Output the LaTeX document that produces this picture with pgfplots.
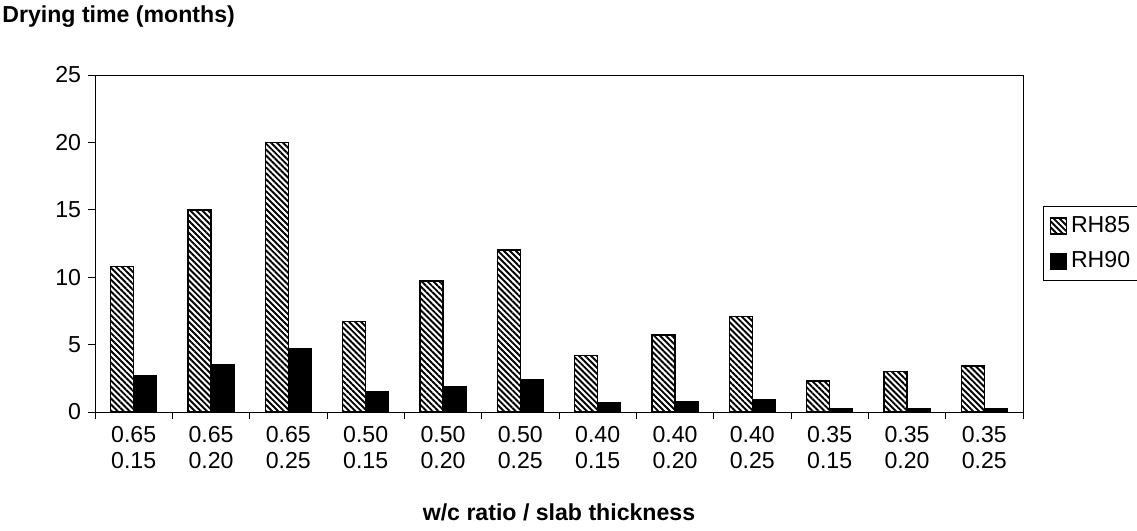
\documentclass[border=0pt]{standalone}
\usepackage{pgfplots}
\pgfplotsset{compat=1.18}
\usetikzlibrary{patterns.meta}
\usepackage{fontspec}
\setmainfont{Liberation Sans}
\newcommand{\fs}{\fontsize{11.6}{13.3}\selectfont}

\begin{document}
\begin{tikzpicture}
\useasboundingbox (0,0) rectangle (568.5bp,265.5bp);
\node[anchor=base west, inner sep=0pt, font=\fs\bfseries] at (1bp,254.2bp) {Drying time (months)};
\begin{axis}[
  at={(47.5bp,59.5bp)}, anchor=south west,
  scale only axis, width=464bp, height=168.5bp,
  xmin=-0.5, xmax=11.5, ymin=0, ymax=25,
  ybar=0pt, bar width=11.5bp,
  xtick={0,...,11},
  xticklabels={{0.65\\0.15},{0.65\\0.20},{0.65\\0.25},{0.50\\0.15},{0.50\\0.20},{0.50\\0.25},{0.40\\0.15},{0.40\\0.20},{0.40\\0.25},{0.35\\0.15},{0.35\\0.20},{0.35\\0.25}},
  minor xtick={-0.5,0.5,...,11.5},
  ytick={0,5,...,25},
  tick align=outside,
  tick pos=left,
  major tick length=3.5bp, minor tick length=3.5bp,
  major x tick style={draw=none},
  tick style={black, line width=0.5bp},
  axis line style={line width=0.5bp},
  ticklabel style={font=\fs},
  xticklabel style={align=center},
  /pgf/number format/assume math mode=true,
  legend style={at={(axis description cs:1.0216,0.5)}, anchor=west, draw=black, line width=0.5bp, font=\fs, inner xsep=3bp, inner ysep=3bp, row sep=4bp},
  legend cell align=left,
  legend image code/.code={\draw[#1] (0bp,-4bp) rectangle (8bp,4bp);},
]
\addplot[draw=black, line width=0.75bp, pattern={Lines[angle=-45,distance=2.1bp,line width=0.95bp]}] coordinates {(0,10.8) (1,15.0) (2,20.0) (3,6.7) (4,9.7) (5,12.0) (6,4.2) (7,5.7) (8,7.1) (9,2.3) (10,3.0) (11,3.4)};
\addplot[draw=black, fill=black] coordinates {(0,2.7) (1,3.5) (2,4.7) (3,1.5) (4,1.9) (5,2.4) (6,0.7) (7,0.8) (8,0.9) (9,0.25) (10,0.25) (11,0.25)};
\legend{RH85,RH90}
\end{axis}
\node[anchor=base, inner sep=0pt, font=\fs\bfseries] at (279.5bp,5.5bp) {w/c ratio / slab thickness};
\end{tikzpicture}
\end{document}
